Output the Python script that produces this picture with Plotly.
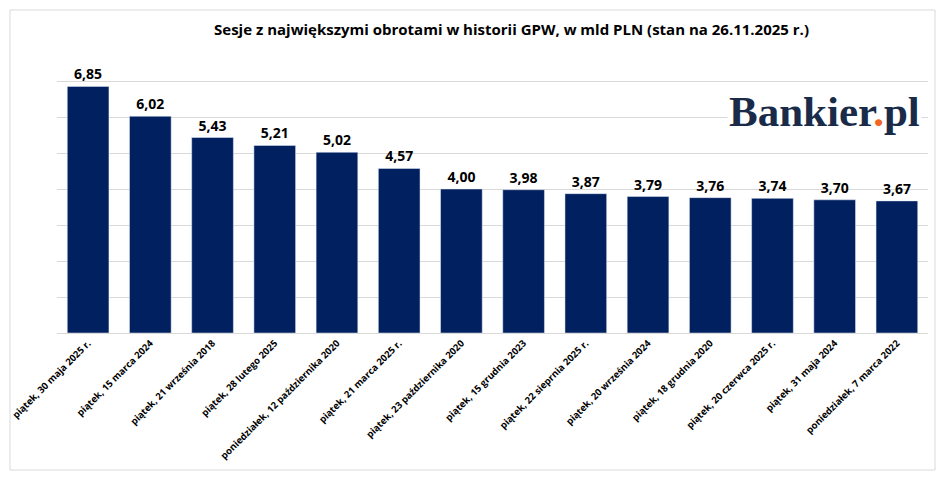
import plotly.graph_objects as go

categories = [
    "piątek, 30 maja 2025 r.",
    "piątek, 15 marca 2024",
    "piątek, 21 września 2018",
    "piątek, 28 lutego 2025",
    "poniedziałek, 12 października 2020",
    "piątek, 21 marca 2025 r.",
    "piątek, 23 października 2020",
    "piątek, 15 grudnia 2023",
    "piątek, 22 sieprnia 2025 r.",
    "piątek, 20 września 2024",
    "piątek, 18 grudnia 2020",
    "piątek, 20 czerwca 2025 r.",
    "piątek, 31 maja 2024",
    "poniedziałek, 7 marca 2022",
]
values = [6.85, 6.02, 5.43, 5.21, 5.02, 4.57, 4.00, 3.98, 3.87, 3.79, 3.76, 3.74, 3.70, 3.67]
labels = ["<b>" + f"{v:.2f}".replace(".", ",") + "</b>" for v in values]

OFF = 8  # default page body margin
W, H = 932, 463
# plot area in page pixels: x 57..928, y 45..333
ml = 57 - OFF
mr = W - (928 - OFF)
mt = 45 - OFF
mb = H - (333 - OFF)
pw, ph = W - ml - mr, H - mt - mb

def px_x(x):
    return (x - OFF - ml) / pw

def px_y(y):
    return (H - mb - (y - OFF)) / ph

fig = go.Figure(go.Bar(
    x=categories, y=values, text=labels, textposition="outside",
    textfont=dict(family="Open Sans", size=14, color="#000000"),
    marker=dict(color="#002060"), cliponaxis=False,
))

fig.update_layout(
    width=W, height=H, margin=dict(l=ml, r=mr, t=mt, b=mb, autoexpand=False),
    paper_bgcolor="white", plot_bgcolor="white",
    bargap=0.33, showlegend=False,
    font=dict(family="Open Sans", color="#000000"),
    title=dict(
        text="<b>Sesje z największymi obrotami w historii GPW, w mld PLN (stan na 26.11.2025 r.)</b>",
        x=(511.5 - OFF) / W, xref="container", xanchor="center",
        y=1 - (30 - OFF) / H, yref="container", yanchor="middle",
        font=dict(family="Open Sans", size=15, color="#000000"),
    ),
    xaxis=dict(
        tickangle=-45, automargin=False,
        tickmode="array", tickvals=categories,
        ticktext=["<b>" + c + "</b>" for c in categories],
        tickfont=dict(family="Open Sans", size=9.5, color="#000000"),
        showline=True, linecolor="#d9d9d9", linewidth=1, ticks="", showgrid=False,
    ),
    yaxis=dict(
        range=[0, 8], dtick=1, showticklabels=False, showgrid=True, automargin=False,
        gridcolor="#d9d9d9", gridwidth=1, zeroline=False, ticks="",
    ),
    shapes=[dict(
        type="rect", xref="paper", yref="paper",
        x0=px_x(10), x1=px_x(935), y0=px_y(470), y1=px_y(10),
        line=dict(color="#d9d9d9", width=1), fillcolor="rgba(0,0,0,0)", layer="below",
    )],
    annotations=[dict(
        text="<b>Bankier<span style='color:#f26522'>.</span>pl</b>",
        xref="paper", yref="paper", x=px_x(824), y=px_y(112),
        xanchor="center", yanchor="middle", showarrow=False,
        font=dict(family="Liberation Serif", size=43, color="#1a2b49"),
        bgcolor="white",
    )],
)

fig.write_html("out.html")
